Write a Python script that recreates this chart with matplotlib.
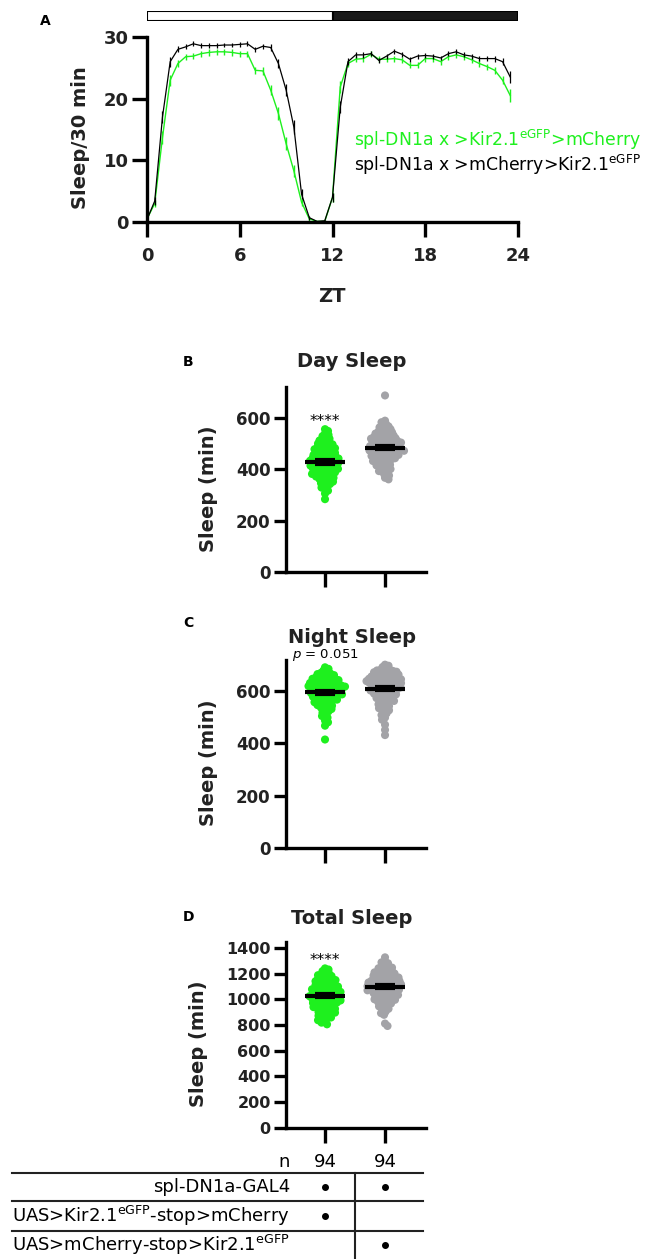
import numpy as np
import matplotlib
matplotlib.use("Agg")
import matplotlib.pyplot as plt
from matplotlib import transforms

# === DATA ===
# panel A: sleep per 30 min bin, ZT 0 .. 23.5
zt = np.arange(48) * 0.5
kir_on = [0.5, 3, 13.7, 23, 25.7, 26.8, 26.9, 27.3, 27.5, 27.6, 27.6, 27.5,
          27.3, 27.3, 24.6, 24.5, 21.4, 17.6, 12.7, 8.3, 3.2, 0.5, 0.1, 0.1,
          4, 21.9, 25.7, 26.4, 26.5, 27.2, 26.4, 26.4, 26.5, 26.3, 25.4, 25.4,
          26.5, 26.5, 26, 26.8, 27.1, 26.8, 26.3, 25.7, 25.2, 24.6, 23, 20.5]
kir_on_sem = [0.3, 0.5, 1.0, 0.9, 0.6, 0.5, 0.5, 0.5, 0.5, 0.5, 0.5, 0.5,
              0.5, 0.5, 0.6, 0.6, 0.8, 1.0, 1.1, 1.0, 0.6, 0.3, 0.1, 0.1,
              0.7, 1.0, 0.6, 0.5, 0.5, 0.5, 0.5, 0.5, 0.5, 0.5, 0.5, 0.5,
              0.5, 0.5, 0.5, 0.5, 0.5, 0.5, 0.5, 0.5, 0.5, 0.6, 0.7, 1.0]
ctrl = [0.4, 3.4, 17, 26, 28, 28.4, 28.9, 28.6, 28.6, 28.6, 28.7, 28.7,
        28.8, 28.9, 28, 28.5, 28.3, 25.7, 21.4, 15.4, 4.5, 0.7, 0.1, 0.2,
        4, 18.6, 26, 27.1, 27.1, 27.3, 26.2, 26.9, 27.7, 27.2, 26.4, 26.9,
        27, 26.9, 26.6, 27.3, 27.6, 27.1, 26.9, 26.5, 26.5, 26.5, 26, 23.5]
ctrl_sem = [0.3, 0.6, 1.0, 0.8, 0.5, 0.4, 0.4, 0.4, 0.4, 0.4, 0.4, 0.4,
            0.4, 0.4, 0.4, 0.4, 0.5, 0.8, 1.0, 1.2, 0.8, 0.3, 0.1, 0.2,
            0.7, 1.0, 0.6, 0.5, 0.5, 0.4, 0.4, 0.4, 0.4, 0.4, 0.4, 0.4,
            0.4, 0.4, 0.4, 0.4, 0.4, 0.4, 0.4, 0.4, 0.4, 0.5, 0.6, 1.0]

# panels B-D: per-fly sleep (min), n = 94 each
day_kir = [555, 548, 538, 533, 528, 522, 518, 514, 511, 507, 504, 501,
           499, 496, 493, 490, 488, 485, 483, 481,
           479, 477, 474, 472, 470, 468, 465, 463, 461,
           459, 457, 455, 453, 451, 449, 447, 445, 444, 442, 441,
           439, 437, 436, 434, 432, 430, 428, 427, 425, 423, 422, 420,
           419, 417, 415, 413, 411, 409, 407, 405, 404, 402, 401,
           399, 397, 395, 393, 391, 389, 387, 385, 383, 381,
           379, 376, 373, 371, 368, 366, 363, 361,
           358, 355, 351, 348, 345, 342, 338, 333, 328, 323, 316, 305, 283]
day_ctrl = [686, 588, 582, 575, 569, 566, 562, 559, 555, 552,
            548, 546, 543, 541, 538, 536, 533, 531,
            529, 527, 525, 523, 521, 520, 518, 516, 514, 513, 511,
            509, 508, 506, 505, 503, 501, 500, 498, 496, 495, 493, 492, 490,
            489, 488, 486, 485, 483, 482, 480, 479, 477, 476, 475, 473, 472, 471,
            469, 467, 466, 464, 462, 460, 458, 457, 455, 454, 452, 451,
            449, 447, 444, 442, 440, 438, 435, 433, 431,
            429, 426, 423, 420, 417, 414, 411,
            408, 404, 400, 396, 392, 387, 381, 375, 366, 360]
night_kir = [692, 686, 680, 674, 671, 668, 666, 664, 662, 659, 656,
             654, 653, 651, 649, 648, 646, 644, 643, 641, 639, 638, 636,
             634, 633, 632, 630, 629, 628, 626, 625, 624, 622, 621, 620, 618, 617, 616,
             614, 613, 612, 610, 609, 608, 606, 605, 604, 602, 601, 600, 598, 597, 596,
             594, 593, 591, 590, 588, 587, 585, 584, 582, 581, 579, 578, 576,
             574, 572, 570, 568, 566, 564, 562, 560, 558, 556,
             553, 550, 547, 545, 542, 540, 537,
             532, 528, 523, 518, 510, 505, 499, 488, 481, 468, 415]
night_ctrl = [702, 698, 693, 688,
              684, 682, 680, 678, 676, 675, 673, 671, 669, 667, 666,
              664, 663, 661, 660, 658, 657, 655, 654, 652, 651, 649, 648, 647, 646,
              644, 643, 642, 640, 639, 638, 636, 635, 634, 632, 631, 630, 628, 627, 626,
              624, 622, 621, 619, 617, 615, 614, 612, 610, 609, 607, 606, 605,
              603, 601, 599, 597, 595, 593, 591, 589, 588, 586,
              584, 581, 579, 576, 574, 571, 569, 566,
              563, 560, 556, 553, 550, 547, 543, 539, 535, 531, 527,
              521, 515, 509, 499, 491, 472, 452, 432]
total_kir = [1242, 1233, 1221, 1208, 1202, 1195, 1189, 1183, 1176,
             1168, 1164, 1160, 1156, 1151, 1147, 1142, 1138, 1133,
             1128, 1124, 1120, 1116, 1112, 1108, 1104, 1100, 1096, 1092,
             1088, 1085, 1082, 1079, 1076, 1073, 1069, 1066, 1063, 1059, 1056, 1052,
             1049, 1046, 1043, 1040, 1037, 1034, 1031, 1028, 1025, 1022, 1018, 1015, 1012,
             1008, 1005, 1002, 999, 996, 992, 989, 986, 983, 979, 976, 972,
             968, 964, 960, 956, 952, 948, 944, 940, 936, 932,
             927, 922, 917, 912, 907, 902, 897, 892,
             886, 880, 873, 866, 859, 852, 846, 838, 829, 819, 806]
total_ctrl = [1328, 1296, 1289, 1282, 1264, 1258, 1253, 1248, 1243, 1236,
              1228, 1224, 1220, 1216, 1211, 1207, 1202, 1197, 1192,
              1188, 1185, 1181, 1178, 1175, 1171, 1168, 1165, 1161, 1158, 1155, 1151,
              1148, 1146, 1143, 1141, 1138, 1135, 1132, 1129, 1126, 1123, 1120, 1118, 1115, 1112,
              1109, 1106, 1103, 1100, 1097, 1094, 1091, 1088, 1085, 1082, 1079, 1076, 1073, 1071,
              1068, 1064, 1060, 1057, 1053, 1050, 1046, 1042, 1039, 1035, 1031,
              1027, 1023, 1018, 1014, 1010, 1006, 1001, 997, 992,
              987, 981, 975, 968, 961, 955, 946, 937, 927, 918,
              904, 893, 880, 812, 793]

n_flies = [94, 94]
geno_rows = ["spl-DN1a-GAL4",
             r"UAS>Kir2.1$^{\mathrm{eGFP}}$-stop>mCherry",
             r"UAS>mCherry-stop>Kir2.1$^{\mathrm{eGFP}}$"]
geno_marks = [[1, 1], [1, 0], [0, 1]]

# === STYLE ===
GREEN = "#1ef01e"
GRAY = "#a3a3a7"
W, H = 650, 1259
plt.rcParams["font.family"] = ["DejaVu Sans"]
plt.rcParams["mathtext.default"] = "regular"

fig = plt.figure(figsize=(W / 100, H / 100), dpi=100)


def ax_px(left, top, right, bottom):
    return fig.add_axes([left / W, 1 - bottom / H, (right - left) / W, (bottom - top) / H])


def style(ax, size):
    for s in ["top", "right"]:
        ax.spines[s].set_visible(False)
    for s in ["left", "bottom"]:
        ax.spines[s].set_linewidth(2.4)
    ax.tick_params(direction="out", length=9, width=2.4, labelsize=size, pad=2)
    for lab in ax.get_yticklabels() + ax.get_xticklabels():
        lab.set_fontweight("bold")
        lab.set_color("#222222")


# overlay for free text in pixel coords, on top of everything
ov = fig.add_axes([0, 0, 1, 1])
ov.set_xlim(0, W)
ov.set_ylim(H, 0)
ov.axis("off")
ov.set_zorder(10)

# === PANEL A ===
lx = ax_px(147, 11, 518, 21)
lx.barh(0, 12, left=0, height=1, color="white", edgecolor="black", lw=1.5)
lx.barh(0, 12, left=12, height=1, color="#1a1a1a", edgecolor="black", lw=1.5)
lx.set_xlim(0, 24)
lx.set_ylim(-0.5, 0.5)
lx.axis("off")

axA = ax_px(147, 37, 518, 222)
axA.errorbar(zt, kir_on, yerr=kir_on_sem, color=GREEN, lw=1.0, elinewidth=1.0,
             capsize=0, clip_on=False, zorder=2)
axA.errorbar(zt, ctrl, yerr=ctrl_sem, color="black", lw=0.9, elinewidth=0.9,
             capsize=0, clip_on=False, zorder=3)
axA.set_xlim(0, 24)
axA.set_ylim(0, 30)
axA.set_xticks([0, 6, 12, 18, 24])
axA.set_yticks([0, 10, 20, 30])
style(axA, 13)
axA.tick_params(axis="x", pad=7, length=11)
axA.tick_params(axis="y", length=11)
ov.text(80, 138, "Sleep/30 min", rotation=90, ha="center", va="center",
        fontsize=14, fontweight="bold", color="#222222")
ov.text(332, 296, "ZT", ha="center", va="center", fontsize=14,
        fontweight="bold", color="#222222")
ov.text(354, 140, r"spl-DN1a x >Kir2.1$^{\mathrm{eGFP}}$>mCherry", color=GREEN,
        ha="left", va="center", fontsize=12.4)
ov.text(354, 165, r"spl-DN1a x >mCherry>Kir2.1$^{\mathrm{eGFP}}$", color="black",
        ha="left", va="center", fontsize=12.4)
ov.text(45, 21, "A", ha="center", va="center", fontsize=10, fontweight="bold")


# === SWARM PANELS ===
def swarm(vals, ypx, r=3.4, step=0.5):
    placed = []
    out = []
    for j, v in enumerate(vals):
        y = v * ypx
        near = [(px, py) for px, py in placed if abs(py - y) < r]
        k = 0
        off = 0.0
        while True:
            if k == 0:
                cands = [0.0]
            elif j % 2:
                cands = [k * step, -k * step]
            else:
                cands = [-k * step, k * step]
            hit = None
            for c in cands:
                if all((c - px) ** 2 + (y - py) ** 2 >= r * r for px, py in near):
                    hit = c
                    break
            if hit is not None:
                off = hit
                break
            k += 1
        placed.append((off, y))
        out.append(off)
    return np.array(out)


panels = [
    ("B", "Day Sleep", day_kir, day_ctrl, (386.7, 572), 720, [0, 200, 400, 600], "****"),
    ("C", "Night Sleep", night_kir, night_ctrl, (660, 847.7), 720, [0, 200, 400, 600], "p"),
    ("D", "Total Sleep", total_kir, total_ctrl, (941.7, 1127.7), 1450, list(range(0, 1401, 200)), "****"),
]
X_PX = 60.0  # pixels per group unit
axes = []
for letter, title, g1, g2, (top, bot), ymax, yt, sig in panels:
    ax = ax_px(286, top, 426, bot)
    ax.set_xlim(-0.65, 1.683)
    ax.set_ylim(0, ymax)
    ypx = (bot - top) / ymax
    for i, (vals, col) in enumerate([(g1, GREEN), (g2, GRAY)]):
        vals = np.array(vals, dtype=float)
        xo = swarm(vals, ypx) / X_PX
        ax.scatter(i + xo, vals, s=34, color=col, edgecolors="none", zorder=2, clip_on=False)
        m = vals.mean()
        sem = vals.std(ddof=1) / np.sqrt(len(vals))
        ax.errorbar(i, m, yerr=sem, fmt="none", ecolor="black", elinewidth=14,
                    capsize=7, capthick=3, zorder=3)
        ax.hlines(m, i - 0.33, i + 0.33, color="black", lw=3, zorder=4)
    ax.set_xticks([0, 1])
    ax.set_xticklabels([])
    ax.set_yticks(yt)
    style(ax, 11.5 if ymax > 1000 else 12)
    ax.tick_params(axis="x", length=11)
    ov.text(352, top - (25 if letter == "B" else 23), title, ha="center", va="center",
            fontsize=14, fontweight="bold", color="#222222")
    ov.text(188, top - 25 + (0 if letter != "C" else -12), letter, ha="center", va="center",
            fontsize=10, fontweight="bold")
    lab_x = 199 if ymax > 1000 else 209
    ov.text(lab_x, (top + bot) / 2 + 9, "Sleep (min)", rotation=90, ha="center",
            va="center", fontsize=14, fontweight="bold", color="#222222")
    if sig == "****":
        ax.text(0, max(g1) + 30 * ymax / 720, "****", ha="center", va="center", fontsize=11)
    else:
        ax.text(0, ymax * 0.985, r"$\mathit{p}$ = 0.051", ha="center", va="bottom", fontsize=9.5)
    axes.append(ax)

# === GENOTYPE TABLE ===
axD = axes[-1]
tr = transforms.blended_transform_factory(axD.transData, ov.transData)
ov.text(290, 1162, "n", ha="right", va="center", fontsize=13)
for i, n in enumerate(n_flies):
    ov.text(i, 1162, str(n), ha="center", va="center", fontsize=13, transform=tr)
row_y = [1187, 1216, 1245]
for label, marks, y in zip(geno_rows, geno_marks, row_y):
    ov.text(290, y, label, ha="right", va="center", fontsize=13)
    for i, mk in enumerate(marks):
        if mk:
            ov.plot([i], [y], "o", color="black", ms=4, transform=tr)
for y in [1172.7, 1201, 1230.7]:
    ov.plot([12, 423], [y, y], color="#222222", lw=1.5)
ov.plot([355, 355], [1172.7, H], color="#222222", lw=1.5)

fig.savefig("out.png", dpi=100)
